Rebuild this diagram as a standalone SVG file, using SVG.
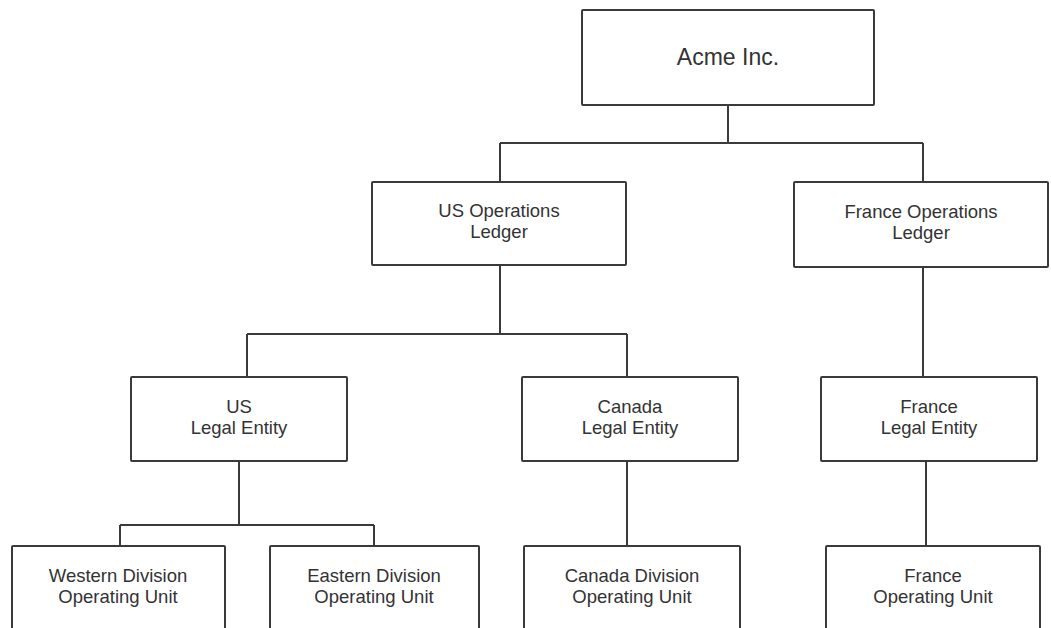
<svg xmlns="http://www.w3.org/2000/svg" width="1051" height="628" viewBox="0 0 1051 628">
<style>
.box{fill:#fff;stroke:#3a3a3a;stroke-width:2;}
.ln{fill:none;stroke:#3a3a3a;stroke-width:2;}
text{font-family:"Liberation Sans",Arial,sans-serif;font-size:18.5px;fill:#333;text-anchor:middle;}
.big{font-size:23px;}
</style>
<rect width="1051" height="628" fill="#fff"/>
<g id="connectors">
<path class="ln" d="M728,105 V143 M500,143 H923 M500,143 V182 M923,143 V182"/>
<path class="ln" d="M500,265 V334 M247,334 H627 M247,334 V377 M627,334 V377"/>
<path class="ln" d="M923,267 V377"/>
<path class="ln" d="M239,461 V525 M120,525 H374 M120,525 V546 M374,525 V546"/>
<path class="ln" d="M627,461 V546"/>
<path class="ln" d="M926,461 V546"/>
</g>
<g id="acme"><rect class="box" x="582" y="10" width="292" height="95" rx="1"/><text class="big" x="728" y="65">Acme Inc.</text></g>
<g id="us-ledger"><rect class="box" x="372" y="182" width="254" height="83" rx="1"/><text x="499" y="217">US Operations</text><text x="499" y="238">Ledger</text></g>
<g id="france-ledger"><rect class="box" x="794" y="182" width="254" height="85" rx="1"/><text x="921" y="218">France Operations</text><text x="921" y="239">Ledger</text></g>
<g id="us-le"><rect class="box" x="131" y="377" width="216" height="84" rx="1"/><text x="239" y="413">US</text><text x="239" y="434">Legal Entity</text></g>
<g id="canada-le"><rect class="box" x="522" y="377" width="216" height="84" rx="1"/><text x="630" y="413">Canada</text><text x="630" y="434">Legal Entity</text></g>
<g id="france-le"><rect class="box" x="821" y="377" width="216" height="84" rx="1"/><text x="929" y="413">France</text><text x="929" y="434">Legal Entity</text></g>
<g id="western-ou"><rect class="box" x="12" y="546" width="213" height="100" rx="1"/><text x="118" y="582">Western Division</text><text x="118" y="603">Operating Unit</text></g>
<g id="eastern-ou"><rect class="box" x="270" y="546" width="209" height="100" rx="1"/><text x="374" y="582">Eastern Division</text><text x="374" y="603">Operating Unit</text></g>
<g id="canada-ou"><rect class="box" x="524" y="546" width="216" height="100" rx="1"/><text x="632" y="582">Canada Division</text><text x="632" y="603">Operating Unit</text></g>
<g id="france-ou"><rect class="box" x="826" y="546" width="214" height="100" rx="1"/><text x="933" y="582">France</text><text x="933" y="603">Operating Unit</text></g>
</svg>
